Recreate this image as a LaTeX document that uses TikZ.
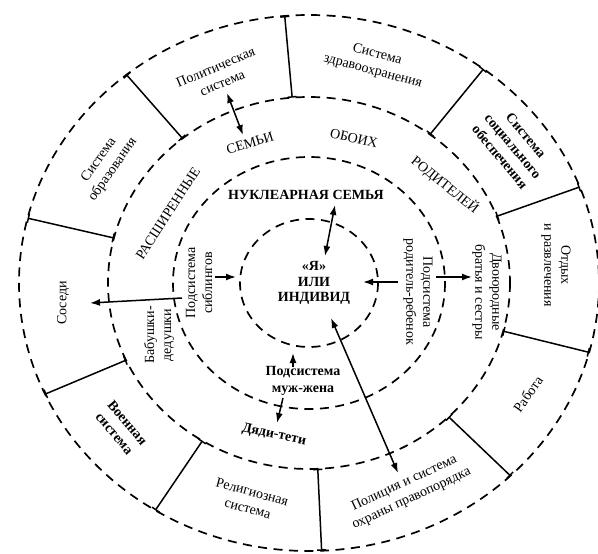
\documentclass[tikz,border=0pt]{standalone}
\usepackage{fontspec}
\setmainfont{Liberation Serif}
\usetikzlibrary{arrows.meta,calc}
\begin{document}
\begin{tikzpicture}[x=1pt,y=-1pt,
  ring/.style={draw, line width=1.7pt, dash pattern=on 9pt off 6.5pt},
  sepline/.style={line width=1.5pt, {Bar[width=9pt]}-{Bar[width=9pt]}},
  onearrow/.style={line width=1.5pt, -{Latex[length=10pt,width=7pt]}},
  twoarrow/.style={line width=1.5pt, {Latex[length=10pt,width=7pt]}-{Latex[length=10pt,width=7pt]}},
  lbl/.style={align=center, inner sep=0pt, font=\fontsize{14}{17}\selectfont},
  blbl/.style={lbl, font=\fontsize{14}{17}\selectfont\bfseries}]
\useasboundingbox (0,0) rectangle (598,554);
\coordinate (c) at (309,283);
% circles
\draw[ring] (c) ellipse [x radius=69, y radius=64];
\draw[ring] (c) ellipse [x radius=136, y radius=126];
\draw[ring] (c) ellipse [x radius=201, y radius=186];
\draw[ring] (c) ellipse [x radius=290, y radius=268];
% separators of the outer ring
\foreach \t [count=\i] in {94.8,129,166,204.5,238,272.5,314,345,21,53}{
  \path (c) ++(-\t:201 and 186) coordinate (si\i);
  \path (c) ++(-\t:290 and 268) coordinate (so\i);
  \draw[sepline] (si\i) -- (so\i);
}
% outer ring labels
\node[lbl, rotate=23] (pol) at (219,75) {Политическая\\система};
\node[lbl, rotate=-15] (health) at (375,63) {Система\\здравоохранения};
\node[blbl, rotate=-50] (soc) at (513,146) {Система\\социального\\обеспечения};
\node[lbl, rotate=-90] (rest) at (556,265) {Отдых\\и развлечения};
\node[lbl, rotate=55] (work) at (528,394) {Работа};
\node[lbl, rotate=25] (police) at (408,491) {Полиция и система\\охраны правопорядка};
\node[lbl, rotate=-15] (rel) at (250,500) {Религиозная\\система};
\node[blbl, rotate=-50] (mil) at (121,428) {Военная\\система};
\node[lbl, rotate=90] (nbr) at (63,303) {Соседи};
\node[lbl, rotate=55] (edu) at (106,165) {Система\\образования};
% extended family ring
\node[lbl, rotate=57] (ext) at (168,213) {РАСШИРЕННЫЕ};
\node[lbl, rotate=17] (fam) at (250,143) {СЕМЬИ};
\node[lbl, rotate=-13] (both) at (354,138) {ОБОИХ};
\node[lbl, rotate=-39] (par) at (445,185) {РОДИТЕЛЕЙ};
\node[lbl, rotate=90] (grand) at (159,335) {Бабушки-\\дедушки};
\node[lbl, rotate=-90] (cous) at (487,292) {Двоюродные\\братья и сестры};
\node[blbl, rotate=-12] (uncle) at (274,435) {Дяди-тети};
% nuclear family ring
\node[blbl] (nuc) at (306,195) {НУКЛЕАРНАЯ СЕМЬЯ};
\node[lbl, rotate=90] (sib) at (199,283) {Подсистема\\сиблингов};
\node[lbl, rotate=-90] (pc) at (418,292) {Подсистема\\родитель-ребенок};
\node[blbl] (mw) at (303,381) {Подсистема\\муж-жена};
% centre
\node[blbl, font=\fontsize{14}{15.5}\selectfont\bfseries] (me) at (314,283) {«Я»\\ИЛИ\\ИНДИВИД};
% arrow end points
\coordinate (a1) at (227,93);  \coordinate (a2) at (243,135);
\coordinate (b1) at (335,205); \coordinate (b2) at (325,256);
\coordinate (c1) at (215,277); \coordinate (c2) at (236,277);
\coordinate (d1) at (398,282); \coordinate (d2) at (363,282);
\coordinate (e1) at (436,277); \coordinate (e2) at (472,277);
\coordinate (f1) at (182,298); \coordinate (f2) at (90,303);
\coordinate (g1) at (293,367); \coordinate (g2) at (293,353);
\coordinate (h1) at (283,398); \coordinate (h2) at (277,423);
\coordinate (i1) at (331,318); \coordinate (i2) at (398,473);
% arrows
\draw[twoarrow] (a1) -- (a2);
\draw[twoarrow] (b1) -- (b2);
\draw[onearrow] (c1) -- (c2);
\draw[onearrow] (d1) -- (d2);
\draw[onearrow] (e1) -- (e2);
\draw[onearrow] (f1) -- (f2);
\draw[onearrow] (g1) -- (g2);
\draw[onearrow] (h1) -- (h2);
\draw[twoarrow] (i1) -- (i2);
\end{tikzpicture}
\end{document}
